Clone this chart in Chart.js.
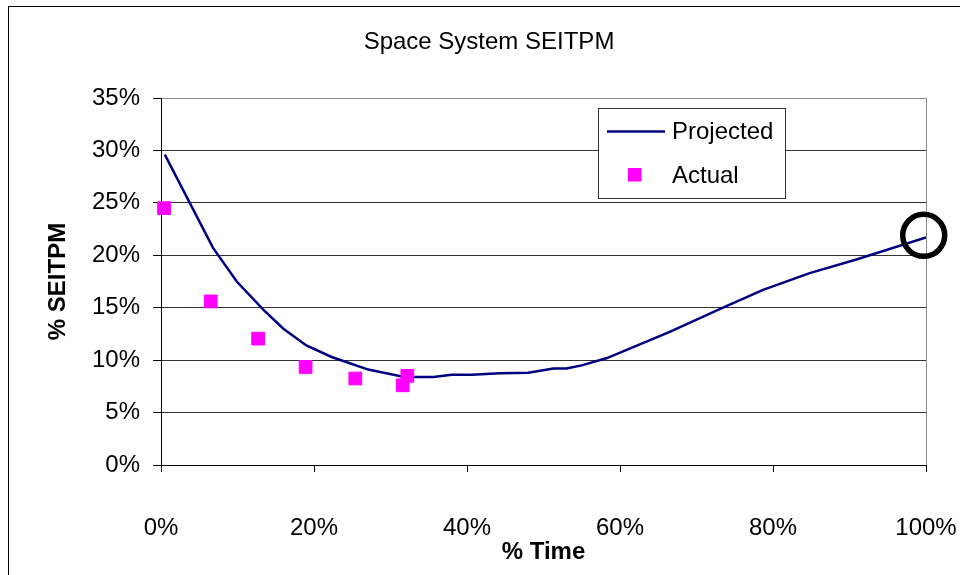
<!DOCTYPE html>
<html>
<head>
<meta charset="utf-8">
<title>Space System SEITPM</title>
<script src="https://cdn.jsdelivr.net/npm/chart.js"></script>
<style>
  html, body { margin: 0; padding: 0; background: #fff; overflow: hidden; }
  #wrap { position: relative; width: 960px; height: 575px; overflow: hidden; }
  #frame { position: absolute; left: 8px; top: 6px; width: 1000px; height: 1000px; border: 1px solid #000; }
  #chart { position: absolute; left: 0; top: 0; }
</style>
</head>
<body>
<div id="wrap">
  <div id="frame"></div>
  <canvas id="chart" width="960" height="575"></canvas>
</div>
<script>
// data (% time vs % SEITPM)
const projectedX = [0.5, 6.8, 9.9, 13.4, 16.0, 19.0, 22.3, 24.3, 27.1, 31.8, 35.6, 38.0, 40.6, 44.3, 48.0, 51.3, 53.0, 55.0, 58.3, 66.5, 73.1, 78.7, 84.8, 90.9, 100];
const projectedY = [29.6, 20.7, 17.5, 14.8, 13.0, 11.4, 10.3, 9.8, 9.1, 8.4, 8.4, 8.6, 8.6, 8.75, 8.8, 9.2, 9.2, 9.5, 10.2, 12.7, 14.9, 16.7, 18.3, 19.6, 21.7];
const actualX = [0.4, 6.5, 12.7, 18.9, 25.4, 31.6, 32.2];
const actualY = [24.5, 15.6, 12.05, 9.35, 8.25, 7.6, 8.5];
const targetX = [99.7];
const targetY = [21.9];

const FONT = "'Liberation Sans', Arial, sans-serif";

function toPoints(xs, ys) {
  return xs.map((x, i) => ({ x: x, y: ys[i] }));
}

// title + legend box drawn inside the plot, like the original
const decorPlugin = {
  id: 'decor',
  afterDraw(chart) {
    const ctx = chart.ctx;
    const ds = chart.data.datasets;
    ctx.save();
    ctx.fillStyle = '#000';
    ctx.font = '24px ' + FONT;
    ctx.textAlign = 'center';
    ctx.textBaseline = 'alphabetic';
    ctx.fillText('Space System SEITPM', 489, 48.5);

    // legend
    ctx.fillStyle = '#fff';
    ctx.fillRect(598, 108, 187, 90);
    ctx.strokeStyle = '#333';
    ctx.lineWidth = 1;
    ctx.strokeRect(598.5, 108.5, 187, 90);

    ctx.strokeStyle = ds[0].borderColor;
    ctx.lineWidth = ds[0].borderWidth;
    ctx.beginPath();
    ctx.moveTo(607, 131.5);
    ctx.lineTo(665, 131.5);
    ctx.stroke();

    ctx.fillStyle = ds[1].backgroundColor;
    ctx.fillRect(628, 168, 13.5, 13.5);

    ctx.fillStyle = '#000';
    ctx.textAlign = 'left';
    ctx.fillText(ds[0].label, 672, 139);
    ctx.fillText(ds[1].label, 672, 183);
    ctx.restore();
  }
};

new Chart(document.getElementById('chart'), {
  type: 'line',
  data: {
    datasets: [
      {
        label: 'Projected',
        data: toPoints(projectedX, projectedY),
        borderColor: '#000080',
        backgroundColor: '#000080',
        borderWidth: 2.5,
        pointRadius: 0,
        tension: 0,
        order: 3
      },
      {
        label: 'Actual',
        data: toPoints(actualX, actualY),
        showLine: false,
        pointStyle: 'rect',
        pointRadius: 9,
        pointBorderWidth: 1,
        borderColor: '#ff00ff',
        backgroundColor: '#ff00ff',
        clip: false,
        order: 2
      },
      {
        label: 'Target',
        data: toPoints(targetX, targetY),
        showLine: false,
        pointStyle: 'circle',
        pointRadius: 21,
        pointBorderWidth: 5.5,
        borderColor: '#000',
        backgroundColor: 'rgba(0,0,0,0)',
        clip: false,
        order: 1
      }
    ]
  },
  options: {
    responsive: false,
    animation: false,
    layout: { padding: { top: 98, right: 34, left: 0, bottom: 0 } },
    plugins: {
      legend: { display: false },
      title: { display: false },
      tooltip: { enabled: false }
    },
    scales: {
      x: {
        type: 'linear',
        min: 0,
        max: 100,
        ticks: {
          stepSize: 20,
          padding: 42,
          color: '#000',
          font: { family: FONT, size: 24 },
          callback: (v) => v + '%'
        },
        grid: {
          color: (c) => (c.tick && c.tick.value === 100 ? '#8c8c8c' : 'rgba(0,0,0,0)'),
          tickColor: '#000',
          tickLength: 7
        },
        border: { color: '#000', width: 1 },
        title: {
          display: true,
          text: '% Time',
          color: '#000',
          font: { family: FONT, size: 24, weight: 'bold' },
          padding: { top: 0, bottom: 8 }
        },
        afterFit: (s) => {
          s.height = 110;
          s.paddingLeft = 0;
          s.paddingRight = 0;
        }
      },
      y: {
        min: 0,
        max: 35,
        ticks: {
          stepSize: 5,
          padding: 13,
          color: '#000',
          font: { family: FONT, size: 24 },
          callback: (v) => v + '%'
        },
        grid: {
          color: (c) => (c.tick && c.tick.value === 35 ? '#8c8c8c' : '#333'),
          tickColor: '#000',
          tickLength: 8
        },
        border: { color: '#000', width: 1 },
        title: {
          display: true,
          text: '% SEITPM',
          color: '#000',
          font: { family: FONT, size: 24, weight: 'bold' },
          padding: { top: 44, bottom: 0 }
        },
        afterFit: (s) => { s.width = 161; }
      }
    }
  },
  plugins: [decorPlugin]
});
</script>
</body>
</html>
